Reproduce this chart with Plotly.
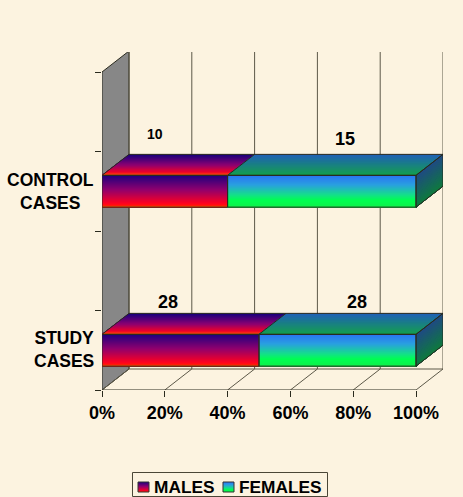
import plotly.graph_objects as go

# Case counts per group, plotted as 100% stacked bars
groups = ["STUDY<br>CASES", "CONTROL<br>CASES"]
group_pos = [0.5, 2.5]
males = [28, 10]
females = [28, 15]
x_ticks = [0, 20, 40, 60, 80, 100]
x_tick_text = ["0%", "20%", "40%", "60%", "80%", "100%"]
y_ticks = [0, 1, 2, 3, 4]

BG = "#FCF3E0"
WALL = "#878787"
EDGE = "#2a2a1e"
GRID = "#5c5848"
FONT = "Liberation Sans"

# Oblique projection offsets, in axis units
DX, DY = 8.6, 0.264
BAR_H = 0.4
XMAX, YMAX = 108.6, 4.2516

MALE_FRONT = [(0, "#1c0080"), (0.45, "#90006e"), (0.88, "#ff0020"), (0.95, "#ff1808"), (1, "#ff7000")]
FEMALE_FRONT = [(0, "#2a74f4"), (0.3, "#2a9fe0"), (0.62, "#14e088"), (0.78, "#00ff50"), (1, "#10f04c")]
MALE_TOP = [(0, "#14007c"), (0.5, "#8a0072"), (0.85, "#f00028"), (1, "#ff5a00")]
FEMALE_TOP = [(0, "#2060b8"), (1, "#12a04c")]
SIDE = [(0, "#1f4a84"), (1, "#0f7a3e")]


def hex_rgb(c):
    return tuple(int(c[i:i + 2], 16) for i in (1, 3, 5))


def ramp(stops, t):
    for (a, ca), (b, cb) in zip(stops, stops[1:]):
        if t <= b:
            f = (t - a) / (b - a)
            ra, rb = hex_rgb(ca), hex_rgb(cb)
            return "rgb(%d,%d,%d)" % tuple(round(p + (q - p) * f) for p, q in zip(ra, rb))
    return stops[-1][1]


def poly(points):
    return "M" + " L".join(f"{x:.4f},{y:.4f}" for x, y in points) + " Z"


def area(points, fill, layer="above", line=None, xref="x", yref="y"):
    return dict(type="path", path=poly(points), xref=xref, yref=yref, layer=layer,
                fillcolor=fill, line=dict(width=0) if line is None else line)


def outline(points, layer="above", xref="x", yref="y", color=EDGE, width=1):
    return dict(type="path", path=poly(points), xref=xref, yref=yref, layer=layer,
                fillcolor="rgba(0,0,0,0)", line=dict(color=color, width=width))


def segment(x0, y0, x1, y1, color=GRID, width=1, layer="below"):
    return dict(type="line", x0=x0, y0=y0, x1=x1, y1=y1, xref="x", yref="y", layer=layer,
                line=dict(color=color, width=width))


def front_face(x0, x1, y0, y1, stops, n=32):
    # Top-to-bottom gradient; each slice runs to the face bottom so no seams show
    out = []
    for i in range(n):
        t = i / n
        y = y1 - (y1 - y0) * t
        out.append(area([(x0, y0), (x1, y0), (x1, y), (x0, y)], ramp(stops, (i + 0.5) / n)))
    return out


def top_face(x0, x1, y, stops, n=20):
    out = []
    for i in range(n):
        t = i / n
        k = 1 - t
        out.append(area([(x0, y), (x1, y), (x1 + DX * k, y + DY * k), (x0 + DX * k, y + DY * k)],
                        ramp(stops, (i + 0.5) / n)))
    return out


def side_face(x, y0, y1, stops, n=24):
    out = []
    for i in range(n):
        y = y1 - (y1 - y0) * i / n
        out.append(area([(x, y0), (x + DX, y0 + DY), (x + DX, y + DY), (x, y)],
                        ramp(stops, (i + 0.5) / n)))
    return out


shapes = []

# Side wall, back wall edges, floor and gridlines
shapes.append(area([(0, 0), (DX, DY), (DX, 4 + DY), (0, 4)], WALL, layer="below",
                   line=dict(color=EDGE, width=1)))
for v in x_ticks:
    shapes.append(segment(v + DX, DY, v + DX, 4 + DY))
    shapes.append(segment(v, 0, v + DX, DY))
shapes.append(segment(DX, 4 + DY, 100 + DX, 4 + DY))
shapes.append(segment(DX, DY, 100 + DX, DY))
shapes.append(segment(0, 0, 100, 0, color=EDGE))

# Gradient shading of each stacked bar
for c, m, f in zip(group_pos, males, females):
    split = 100 * m / (m + f)
    y0, y1 = c - BAR_H / 2, c + BAR_H / 2
    shapes += side_face(100, y0, y1, SIDE)
    shapes += top_face(0, split, y1, MALE_TOP)
    shapes += top_face(split, 100, y1, FEMALE_TOP)
    shapes += front_face(0, split, y0, y1, MALE_FRONT)
    shapes += front_face(split, 100, y0, y1, FEMALE_FRONT)
    shapes.append(outline([(0, y0), (split, y0), (split, y1), (0, y1)]))
    shapes.append(outline([(split, y0), (100, y0), (100, y1), (split, y1)]))
    shapes.append(outline([(100, y0), (100 + DX, y0 + DY), (100 + DX, y1 + DY), (100, y1)]))
    shapes.append(outline([(0, y1), (DX, y1 + DY), (100 + DX, y1 + DY), (100, y1)]))
    shapes.append(dict(type="line", x0=split, y0=y1, x1=split + DX, y1=y1 + DY, xref="x", yref="y",
                       layer="above", line=dict(color=EDGE, width=1)))

# Legend box placed below the plot, positions in paper fractions
PW, PH = 341, 338


def px(x):
    return (x - 102) / PW


def py(y):
    return (390 - y) / PH


shapes.append(area([(px(132.5), py(472.5)), (px(327.5), py(472.5)), (px(327.5), py(496.5)), (px(132.5), py(496.5))],
                   "rgba(0,0,0,0)", xref="paper", yref="paper", line=dict(color="#4a4636", width=1)))
for left, stops in ((138, MALE_FRONT), (223, FEMALE_FRONT)):
    top, bottom = 482, 492
    n = 10
    for i in range(n):
        y = top + (bottom - top) * i / n
        shapes.append(area([(px(left), py(y)), (px(left + 11), py(y)), (px(left + 11), py(bottom)), (px(left), py(bottom))],
                           ramp(stops, (i + 0.5) / n), xref="paper", yref="paper"))
    shapes.append(outline([(px(left), py(top)), (px(left + 11), py(top)), (px(left + 11), py(bottom)), (px(left), py(bottom))],
                          xref="paper", yref="paper", color="#333333"))

annotations = []
for c, label, nudge in zip(group_pos, groups, (0.015, 0.0)):
    annotations.append(dict(text=f"<b>{label}</b>", x=px(96), xref="paper", y=c + nudge, yref="y",
                            xanchor="right", yanchor="middle", align="center", showarrow=False,
                            font=dict(family=FONT, size=17.5, color="#000000")))

# Count labels sit above each segment; the control males label is set smaller
label_spots = [
    (21, 1.107, males[0], 18),
    (81.2, 1.107, females[0], 18),
    (17, 3.22, males[1], 14),
    (77.4, 3.157, females[1], 18),
]
for x, y, value, size in label_spots:
    annotations.append(dict(text=f"<b>{value}</b>", x=x, y=y, xref="x", yref="y", showarrow=False,
                            xanchor="center", yanchor="middle",
                            font=dict(family=FONT, size=size, color="#000000")))

for x, text in ((154, "MALES"), (239, "FEMALES")):
    annotations.append(dict(text=f"<b>{text}</b>", x=px(x), y=py(486.5), xref="paper", yref="paper",
                            xanchor="left", yanchor="middle", showarrow=False, xshift=-2,
                            font=dict(family=FONT, size=17.3, color="#000000")))

fig = go.Figure()
fig.add_bar(name="MALES", y=group_pos, x=males, orientation="h", width=BAR_H,
            marker=dict(color="#90006e", line=dict(color=EDGE, width=1)))
fig.add_bar(name="FEMALES", y=group_pos, x=females, orientation="h", width=BAR_H,
            marker=dict(color="#20a8c0", line=dict(color=EDGE, width=1)))

fig.update_layout(
    width=463, height=497,
    margin=dict(l=102, r=20, t=52, b=107, pad=0),
    barmode="stack", barnorm="percent",
    showlegend=False,
    paper_bgcolor=BG, plot_bgcolor=BG,
    font=dict(family=FONT, color="#000000"),
    shapes=shapes, annotations=annotations,
    xaxis=dict(range=[0, XMAX], tickvals=x_ticks, ticktext=[f"<b>{t}</b>" for t in x_tick_text],
               ticks="outside", ticklen=6, tickcolor=EDGE, tickwidth=1, ticklabelstandoff=0,
               tickfont=dict(family=FONT, size=18, color="#000000"),
               showgrid=False, zeroline=False, showline=False, fixedrange=True),
    yaxis=dict(range=[0, YMAX], tickvals=y_ticks, ticktext=[""] * len(y_ticks),
               ticks="outside", ticklen=6, tickcolor=EDGE, tickwidth=1,
               showgrid=False, zeroline=False, showline=False, fixedrange=True),
)

fig.write_html("out.html", config=dict(displayModeBar=False))
